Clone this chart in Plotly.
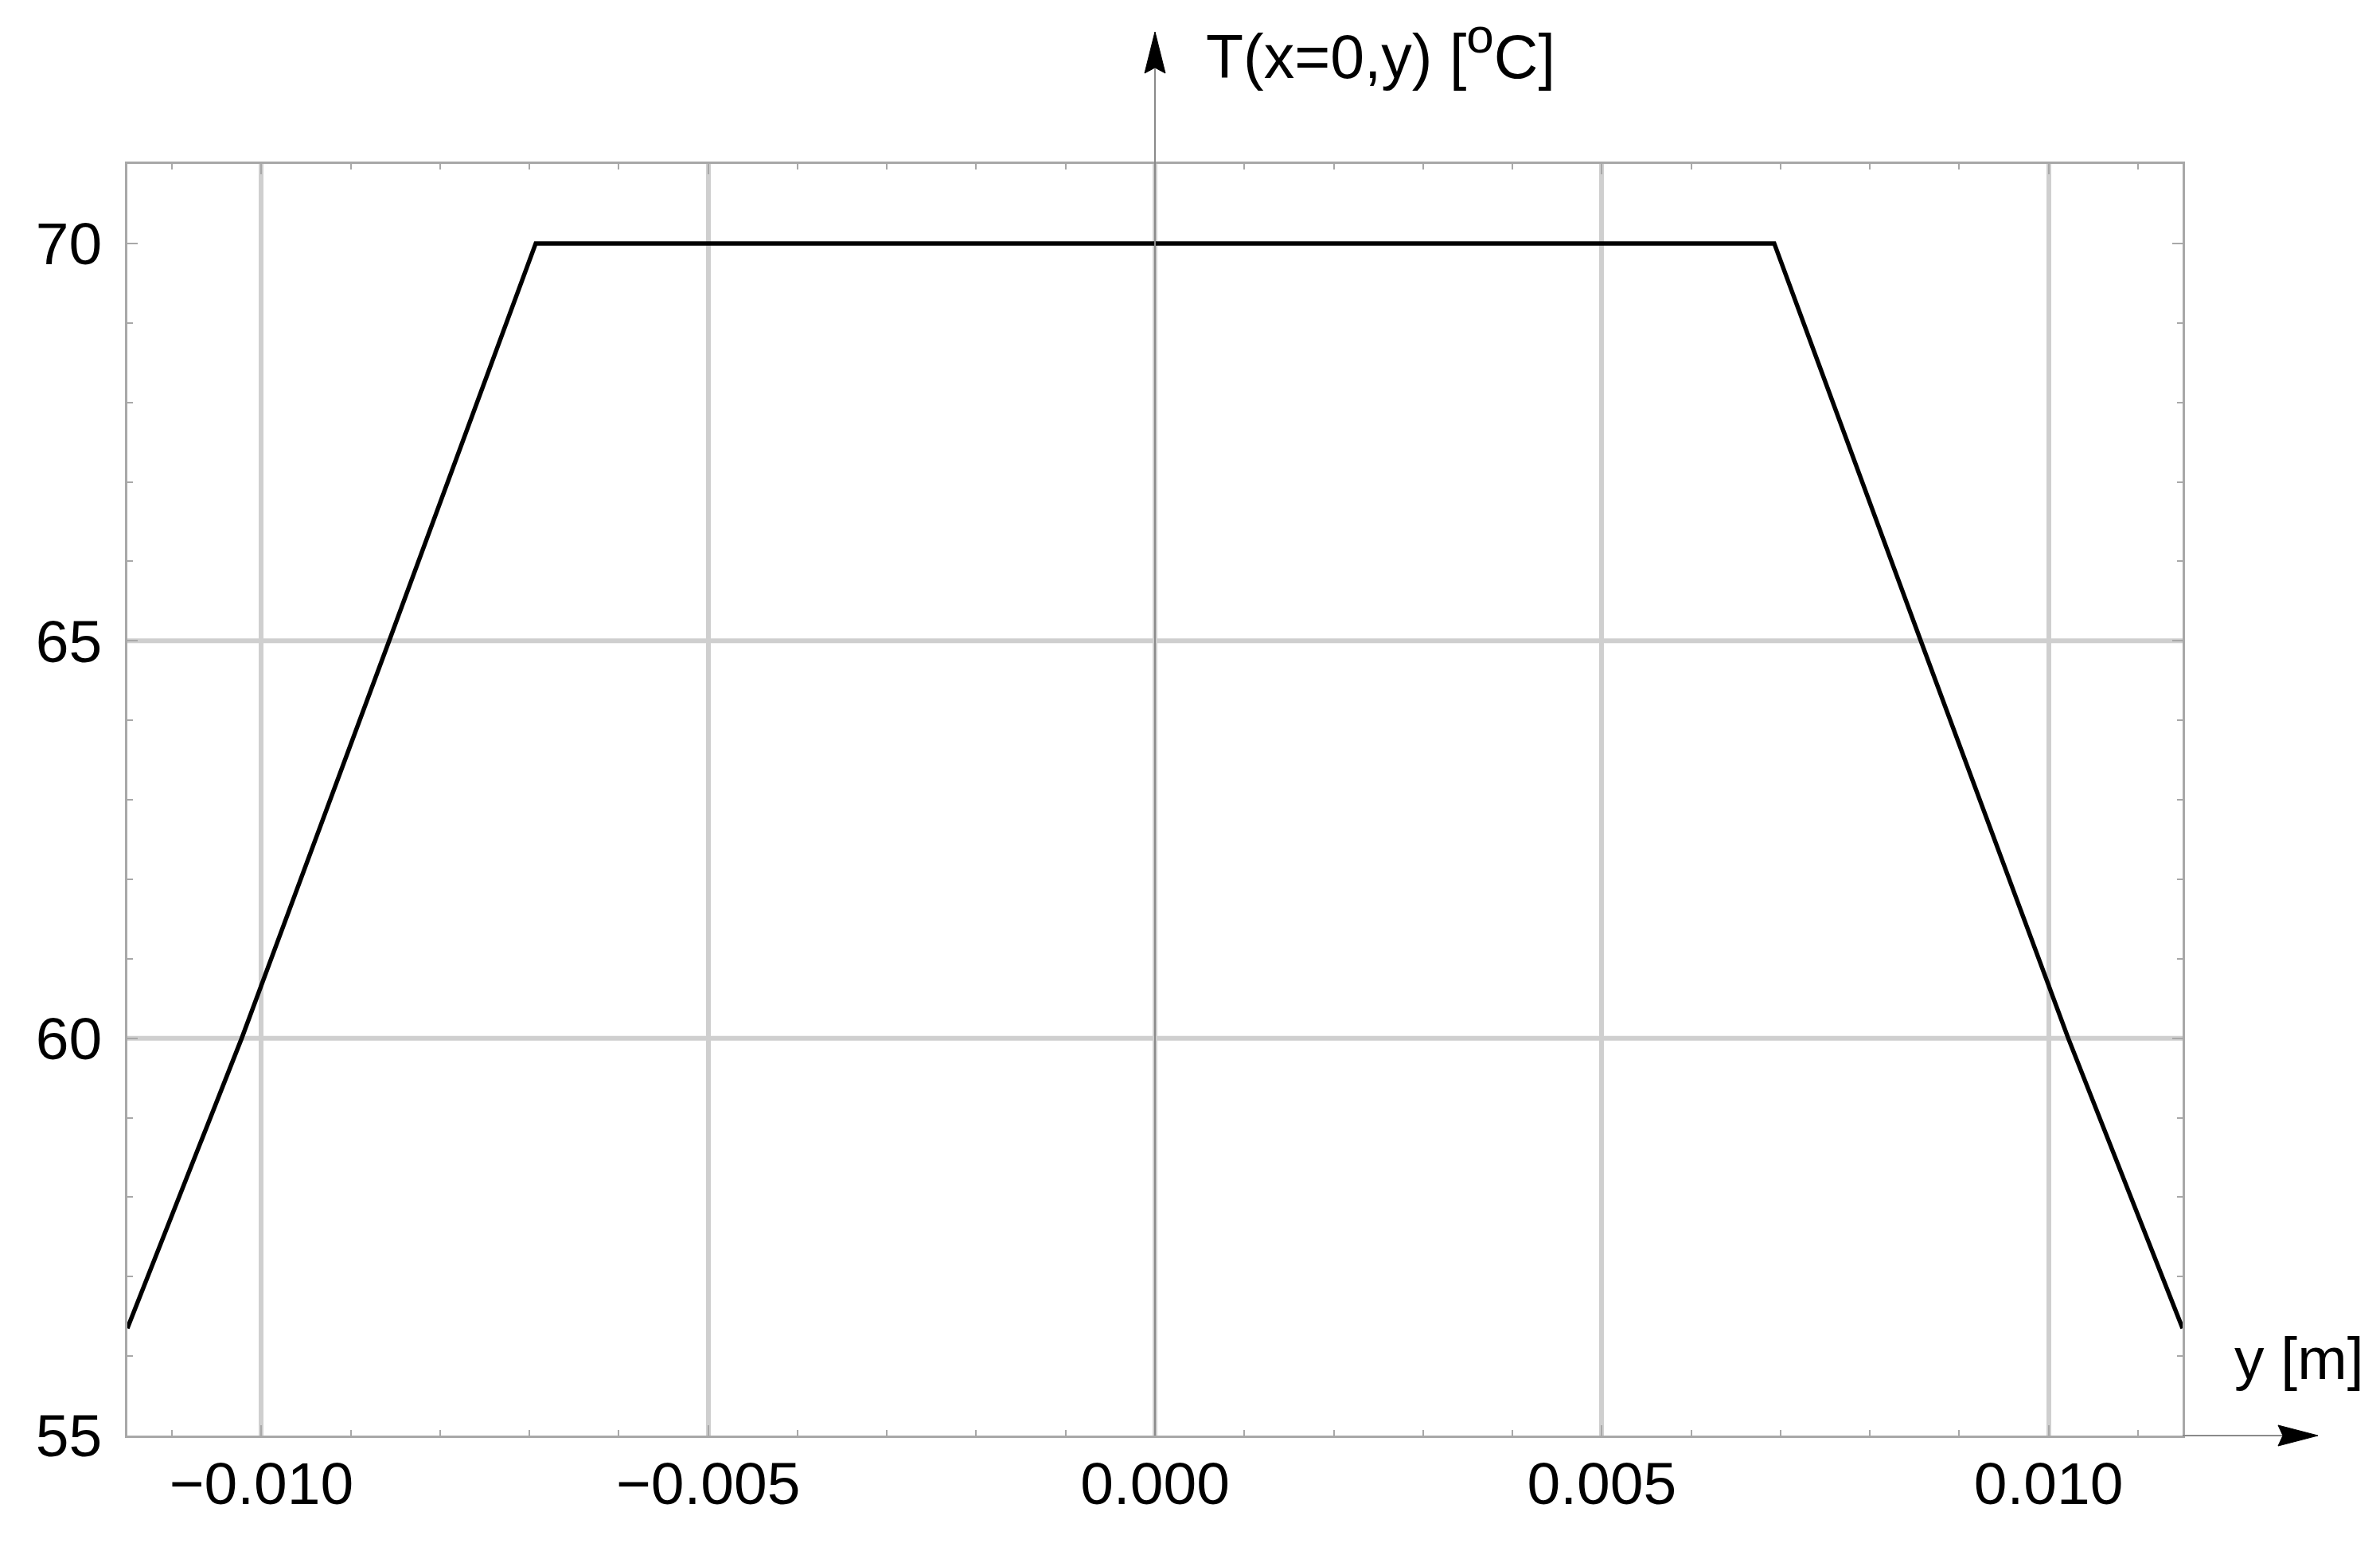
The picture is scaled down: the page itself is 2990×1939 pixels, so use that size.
import plotly.graph_objects as go

# ---- data ----
y_pos = [-0.0115, -0.01022, -0.00857, -0.00693, 0.0, 0.00693, 0.00857, 0.01022, 0.0115]
T_vals = [56.35, 60.0, 65.0, 70.0, 70.0, 70.0, 65.0, 60.0, 56.35]

x_tickvals = [-0.010, -0.005, 0.000, 0.005, 0.010]
x_ticktext = ["\u22120.010", "\u22120.005", "0.000", "0.005", "0.010"]
y_tickvals = [55, 60, 65, 70]
y_ticktext = ["55", "60", "65", "70"]
y_gridvals = [60, 65]

FONT = "Liberation Sans, Arial, sans-serif"
FRAME = "#a8a8a8"
GRID = "#cfcfcf"

fig = go.Figure()
fig.add_trace(go.Scatter(x=y_pos, y=T_vals, mode="lines",
                         line=dict(color="black", width=5.5), hoverinfo="skip",
                         showlegend=False))

axis_common = dict(
    showline=True, linecolor=FRAME, linewidth=2.5, mirror="allticks",
    ticks="inside", ticklen=13, tickwidth=2, tickcolor=FRAME,
    zeroline=False,
    tickfont=dict(family=FONT, size=75, color="black"),
)

fig.update_xaxes(range=[-0.0115, 0.0115], tickvals=x_tickvals, ticktext=x_ticktext,
                 showgrid=True, gridcolor=GRID, gridwidth=6,
                 minor=dict(dtick=0.001, tick0=0, ticks="inside", ticklen=7,
                            tickwidth=2, tickcolor=FRAME, showgrid=False),
                 ticklabelstandoff=-7, **axis_common)
fig.update_yaxes(range=[55, 71.0], tickvals=y_tickvals, ticktext=y_ticktext,
                 showgrid=False,
                 minor=dict(dtick=1, tick0=55, ticks="inside", ticklen=7,
                            tickwidth=2, tickcolor=FRAME, showgrid=False),
                 ticklabelstandoff=14, **axis_common)

shapes = []
for g in y_gridvals:
    shapes.append(dict(type="line", xref="paper", x0=0, x1=1, yref="y", y0=g, y1=g,
                       line=dict(color=GRID, width=6), layer="below"))
# vertical axis line at x = 0 with arrow
shapes.append(dict(type="line", xref="x", x0=0, x1=0, yref="paper", y0=0, y1=1.075,
                   line=dict(color="#8a8a8a", width=2)))
shapes.append(dict(type="path", xref="x", xsizemode="pixel", xanchor=0,
                   yref="paper", ysizemode="pixel", yanchor=1,
                   path="M0,166 L-13,114 L0,121 L13,114 Z",
                   fillcolor="black", line=dict(color="black", width=1)))
# horizontal axis line at bottom with arrow
shapes.append(dict(type="line", xref="paper", x0=1, x1=1.06, yref="paper", y0=0, y1=0,
                   line=dict(color="#8a8a8a", width=2)))
shapes.append(dict(type="path", xref="paper", xsizemode="pixel", xanchor=1,
                   yref="paper", ysizemode="pixel", yanchor=0,
                   path="M170,0 L120,13 L126,0 L120,-13 Z",
                   fillcolor="black", line=dict(color="black", width=1)))

annotations = [
    dict(text="T(x=0,y) [<sup><span style='font-size:62px'>o</span></sup>C]",
         xref="x", x=0, xanchor="left", xshift=62,
         yref="paper", y=1.090, yanchor="middle", showarrow=False,
         font=dict(family=FONT, size=77, color="black")),
    dict(text="y [m]", xref="paper", x=1.0245, xanchor="left",
         yref="paper", y=0.061, yanchor="middle", showarrow=False,
         font=dict(family=FONT, size=75, color="black")),
]

fig.update_layout(width=2990, height=1939,
                  margin=dict(l=152, r=256, t=198, b=143),
                  paper_bgcolor="white", plot_bgcolor="white",
                  shapes=shapes, annotations=annotations, showlegend=False)

fig.write_html("out.html")
